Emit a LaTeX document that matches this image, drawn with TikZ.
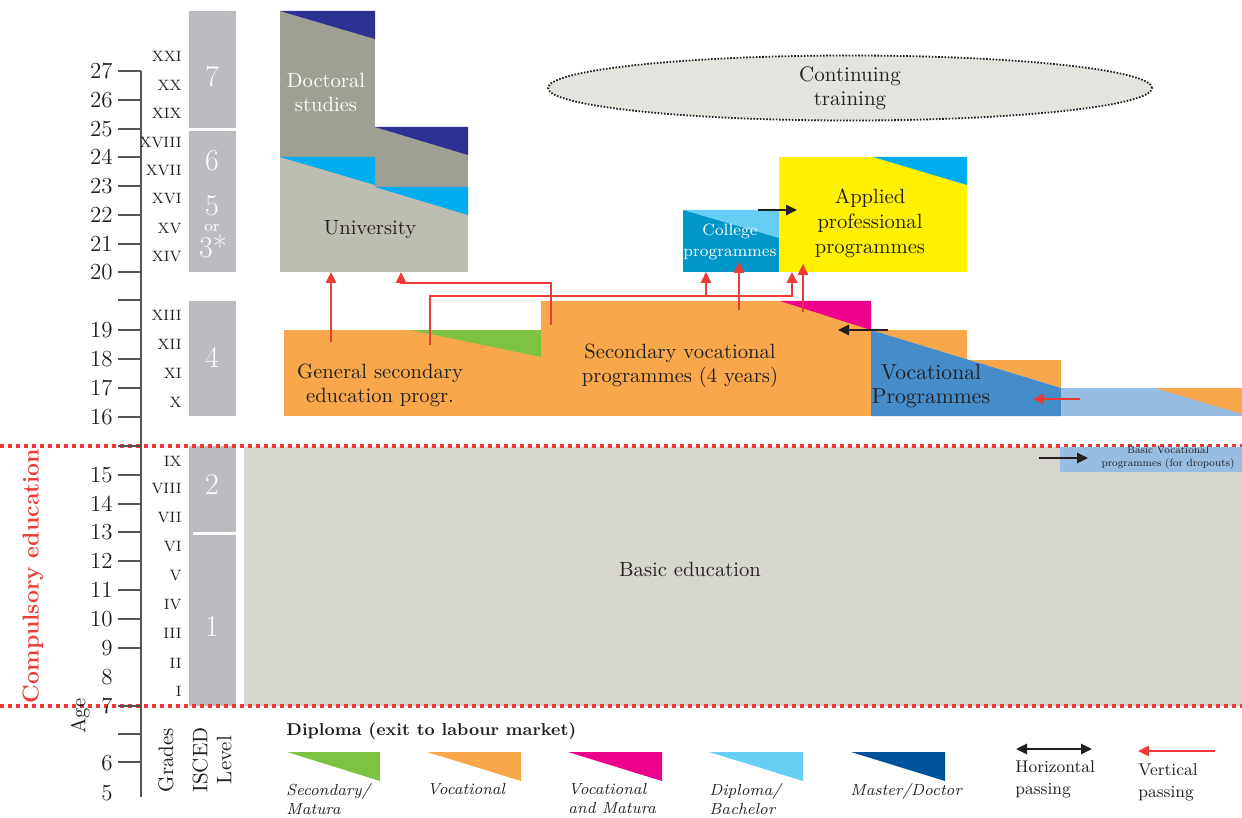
\documentclass[tikz,border=0pt]{standalone}
\usetikzlibrary{arrows.meta,shapes.geometric,fit}
\definecolor{inkdark}{HTML}{231F20}
\definecolor{iscedgray}{HTML}{BBBCC0}
\definecolor{basicgray}{HTML}{D6D6CE}
\definecolor{docgray}{HTML}{A09F93}
\definecolor{unigray}{HTML}{BDBDB1}
\definecolor{mastnavy}{HTML}{2E3192}
\definecolor{diplcyan}{HTML}{00AEEF}
\definecolor{vocorange}{HTML}{F8A84B}
\definecolor{matgreen}{HTML}{7DC242}
\definecolor{vmmagenta}{HTML}{EC008C}
\definecolor{appyellow}{HTML}{FFF100}
\definecolor{collblue}{HTML}{0096C6}
\definecolor{colllight}{HTML}{66CDF5}
\definecolor{vocblue}{HTML}{458CCB}
\definecolor{paleblue}{HTML}{98BDE3}
\definecolor{passred}{HTML}{EE3B36}
\definecolor{ctgray}{HTML}{E4E4DF}
\definecolor{legcyan}{HTML}{66CFF6}
\definecolor{legnavy}{HTML}{00529B}
\definecolor{axisgray}{HTML}{555555}
\begin{document}
\begin{tikzpicture}[x=0.5pt,y=-0.5pt,
  area/.style={inner sep=0pt, outer sep=0pt, draw=none},
  lab/.style={font=\fontsize{10.3}{12}\selectfont, text=inkdark, align=center, inner sep=0pt},
  agenum/.style={font=\fontsize{11.5}{12}\selectfont, text=inkdark, inner sep=0pt, anchor=east},
  grade/.style={font=\fontsize{7.5}{9}\selectfont, text=inkdark, inner sep=0pt, anchor=east},
  iscnum/.style={font=\fontsize{15}{16}\selectfont, text=white, inner sep=0pt},
  legtext/.style={font=\itshape\fontsize{8}{9.5}\selectfont, text=inkdark, align=left, inner sep=0pt, anchor=north west},
  passtext/.style={font=\fontsize{8.5}{11}\selectfont, text=inkdark, align=left, inner sep=0pt, anchor=north west},
  vpass/.style={draw=passred, line width=1.25pt, -{Triangle[length=5.5pt,width=5pt]}},
  hpass/.style={draw=inkdark, line width=1.25pt, -{Triangle[length=5.5pt,width=5pt]}},
  redrule/.style={draw=passred, line width=2pt, dash pattern=on 2pt off 2pt},
  axistick/.style={draw=axisgray, line width=0.6pt}]
\useasboundingbox (0,0) rectangle (1242,818);

% ---------- ISCED level column ----------
\node[area, fill=iscedgray, fit={(189,11)(236,128)}] (isc7) {};
\node[area, fill=iscedgray, fit={(189,131)(236,272)}] (isc56) {};
\node[area, fill=iscedgray, fit={(189,301)(236,416)}] (isc4) {};
\node[area, fill=iscedgray, fit={(189,446)(236,706)}] (isc12) {};
\draw[white, line width=1.5pt] (193,533) -- (236,533);
\node[iscnum] (n7) at (212,77) {7};
\node[iscnum] (n6) at (212,161) {6};
\node[iscnum] (n5) at (212,206) {5};
\node[font=\fontsize{8}{9}\selectfont, text=white, inner sep=0pt] (nor) at (212,228) {or};
\node[iscnum] (n3) at (213,247) {3*};
\node[iscnum] (n4) at (212,357) {4};
\node[iscnum] (n2) at (212,485) {2};
\node[iscnum] (n1) at (212,627) {1};

% ---------- basic education ----------
\node[area, fill=basicgray, fit={(244,447)(1242,706)}] (basic) {};
\node[lab] (basictxt) at (690,569) {Basic education};

% ---------- doctoral and university ----------
\fill[docgray] (280,11) rectangle (375,157);
\fill[docgray] (375,127) rectangle (468,187);
\fill[mastnavy] (280,11) -- (375,11) -- (375,39) -- cycle;
\fill[mastnavy] (375,127) -- (468,127) -- (468,155) -- cycle;
\fill[unigray] (280,157) rectangle (375,272);
\fill[unigray] (375,187) rectangle (468,272);
\fill[diplcyan] (280,157) -- (375,157) -- (375,185) -- cycle;
\fill[diplcyan] (375,187) -- (468,187) -- (468,215) -- cycle;
\node[area, fit={(280,157)(468,272)}] (univ) {};
\node[lab, text=white] (doctxt) at (326,92) {Doctoral\\studies};
\node[lab] (unitxt) at (370,230) {University};

% ---------- continuing training ----------
\node[ellipse, draw=inkdark, line width=0.9pt, dash pattern=on 0.8pt off 0.8pt,
      fill=ctgray, minimum width=302pt, minimum height=32.5pt, inner sep=0pt,
      font=\fontsize{10.5}{12}\selectfont, text=inkdark, align=center] (cont) at (850,88)
      {Continuing\\training};

% ---------- college and applied programmes ----------
\node[area, fill=collblue, fit={(683,210)(779,272)}] (college) {};
\fill[colllight] (683,210) -- (779,210) -- (779,238) -- cycle;
\node[lab, text=white, font=\fontsize{8.2}{10.5}\selectfont] (colltxt) at (730,242) {College\\programmes};
\node[area, fill=appyellow, fit={(779,157)(967,272)}] (applied) {};
\fill[diplcyan] (873,157) -- (967,157) -- (967,185) -- cycle;
\node[lab, font=\fontsize{10.3}{12.5}\selectfont] (apptxt) at (870,223) {Applied\\professional\\programmes};

% ---------- upper secondary ----------
\node[area, fill=vocorange, fit={(284,330)(541,416)}] (gensec) {};
\fill[matgreen] (411,330) -- (541,330) -- (541,357) -- cycle;
\node[lab] (gentxt) at (380,385) {General secondary\\education progr.};
\node[area, fill=vocorange, fit={(541,301)(871,416)}] (secvoc) {};
\fill[vmmagenta] (780,301) -- (871,301) -- (871,330) -- cycle;
\node[lab] (svtxt) at (680,366) {Secondary vocational\\programmes (4 years)};
\fill[vocorange] (871,330) -- (967,330) -- (967,360) -- (1061,360) -- (1061,388) -- cycle;
\fill[vocblue] (871,330) -- (1061,388) -- (1061,416) -- (871,416) -- cycle;
\node[area, fit={(871,330)(1061,416)}] (vocprog) {};
\node[lab, font=\fontsize{10.8}{12}\selectfont] (vptxt) at (931,386) {Vocational\\Programmes};
\fill[paleblue] (1061,388) rectangle (1242,416);
\fill[vocorange] (1155,388) -- (1242,388) -- (1242,414) -- cycle;
\node[area, fit={(1061,388)(1242,416)}] (shortvoc) {};

% ---------- compulsory education limits ----------
\draw[redrule] (0,446) -- (1242,446);
\draw[redrule] (0,706) -- (1242,706);
\node[rotate=90, text=passred, font=\bfseries\fontsize{11.5}{13}\selectfont, inner sep=0pt] (comp) at (33,576) {Compulsory education};

% basic vocational programmes for dropouts
\node[area, fill=paleblue, fit={(1060,447)(1242,472)}] (basicvoc) {};
\node[lab, font=\fontsize{8}{10}\selectfont, scale=0.66] (bvtxt) at (1168,458) {Basic Vocational\\programmes (for dropouts)};

% ---------- age axis ----------
\draw[draw=axisgray, line width=0.8pt] (141,71) -- (141,797);
\foreach \ty in {71,100,129,157,186,215,244,272,300,330,359,388,417,446,475,504,532,561,590,619,648,706,734,762}
  \draw[axistick] (118,\ty) -- (141,\ty);
\foreach \a/\ty in {27/71,26/100,25/129,24/157,23/186,22/215,21/244,20/272,19/330,18/359,17/388,16/417,15/475,14/504,13/532,12/561,11/590,10/619,9/648,8/677,7/706,6/763,5/793}
  \node[agenum] (age\a) at (113,\ty) {\a};
\foreach \r/\ty in {XXI/56,XX/85,XIX/113,XVIII/143,XVII/171,XVI/199,XV/229,XIV/257,XIII/315,XII/344,XI/373,X/402,IX/461,VIII/489,VII/518,VI/547,V/576,IV/605,III/633,II/663,I/691}
  \node[grade] (gr\r) at (182,\ty) {\r};
\node[rotate=90, lab] (agelab) at (80,716) {Age};
\node[rotate=90, lab, font=\fontsize{10.5}{12}\selectfont] (gradelab) at (166,760) {Grades};
\node[rotate=90, lab, font=\fontsize{10.5}{12}\selectfont] (iscedlab) at (212,760) {ISCED\\Level};

% ---------- vertical passing ----------
\coordinate (g1) at (331,342);
\draw[vpass] (g1) -- (g1 |- univ.south);
\coordinate (s1) at (551,325);
\coordinate (s1k) at (551,283);
\coordinate (u2) at (401,283);
\draw[vpass] (s1) -- (s1k) -- (u2) -- (u2 |- univ.south);
\coordinate (g2) at (430,345);
\coordinate (r3) at (792,296);
\draw[vpass] (g2) |- (r3) -- (r3 |- applied.south);
\coordinate (c1) at (706,296);
\draw[vpass] (c1) -- (c1 |- college.south);
\coordinate (s2) at (739,310);
\coordinate (s2t) at (739,262);
\draw[vpass] (s2) -- (s2t);
\coordinate (s3) at (803,312);
\coordinate (s3t) at (803,264);
\draw[vpass] (s3) -- (s3t);
\coordinate (v1) at (1080,399);
\coordinate (v1t) at (1033,399);
\draw[vpass] (v1) -- (v1t);

% ---------- horizontal passing ----------
\coordinate (h1) at (758,210);
\coordinate (h1t) at (797,210);
\draw[hpass] (h1) -- (h1t);
\coordinate (h2) at (888,330);
\coordinate (h2t) at (838,330);
\draw[hpass] (h2) -- (h2t);
\coordinate (h3) at (1039,458);
\coordinate (h3t) at (1088,458);
\draw[hpass] (h3) -- (h3t);

% ---------- legend ----------
\node[anchor=west, inner sep=0pt, text=inkdark, font=\bfseries\fontsize{8.6}{11}\selectfont] (legtitle) at (286,731) {Diploma (exit to labour market)};
\fill[matgreen] (287,752) -- (380,752) -- (380,781) -- cycle;
\fill[vocorange] (427,752) -- (521,752) -- (521,781) -- cycle;
\fill[vmmagenta] (568,752) -- (662,752) -- (662,781) -- cycle;
\fill[legcyan] (709,752) -- (803,752) -- (803,781) -- cycle;
\fill[legnavy] (851,752) -- (945,752) -- (945,781) -- cycle;
\node[legtext] (leg1) at (286,783) {Secondary/\\Matura};
\node[legtext] (leg2) at (427,783) {Vocational};
\node[legtext] (leg3) at (568,783) {Vocational\\and Matura};
\node[legtext] (leg4) at (709,783) {Diploma/\\Bachelor};
\node[legtext] (leg5) at (850,783) {Master/Doctor};
\coordinate (hl) at (1016,749);
\coordinate (hr) at (1092,749);
\draw[hpass, {Triangle[length=5.5pt,width=5pt]}-{Triangle[length=5.5pt,width=5pt]}] (hl) -- (hr);
\node[passtext] (htxt) at (1015,760) {Horizontal\\passing};
\coordinate (vr) at (1215,751);
\coordinate (vl) at (1138,751);
\draw[vpass] (vr) -- (vl);
\node[passtext] (vtxt) at (1138,763) {Vertical\\passing};
\end{tikzpicture}
\end{document}
